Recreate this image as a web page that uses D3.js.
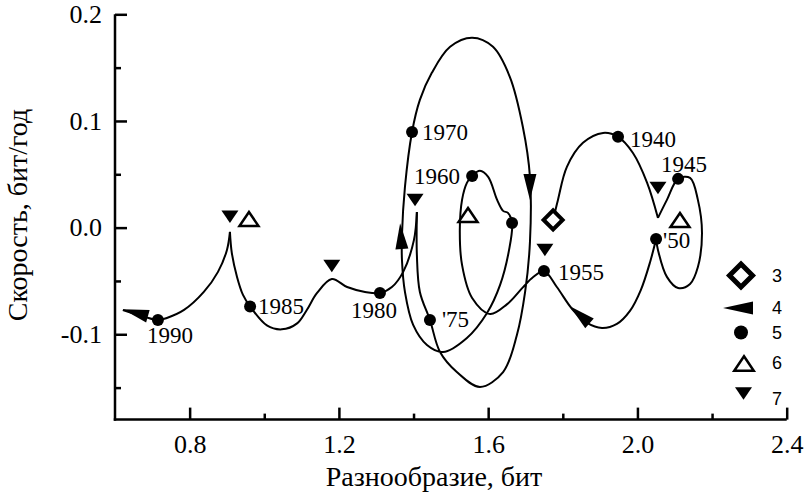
<!DOCTYPE html>
<html><head><meta charset="utf-8">
<script src="https://cdn.jsdelivr.net/npm/d3@7"></script>
<style>
body{margin:0;background:#fff}
</style>
</head><body><svg id="c" width="805" height="496"></svg>
<script>
// ---------- data ----------
const xTicks = [0.8, 1.2, 1.6, 2.0, 2.4];
const xMinorTicks = [1.0, 1.4, 1.8, 2.2];
const yTicks = [0.2, 0.1, 0.0, -0.1];
const yMinorTicks = [0.15, 0.05, -0.05, -0.15];
const xTitle = "Разнообразие, бит";
const yTitle = "Скорость, бит/год";

// trajectory, split into smooth pieces at cusps
const trajSeg1 = [[1.774,0.0072],[1.787,0.026],[1.811,0.057],[1.854,0.0795],[1.908,0.0888],[1.948,0.0851],[1.988,0.070],[2.026,0.042],[2.055,0.0091]];
const trajSeg2 = [[2.055,0.0091],[2.079,0.026],[2.109,0.0457],[2.141,0.0466],[2.162,0.026],[2.173,-0.005],[2.162,-0.0369],[2.141,-0.0528],[2.109,-0.0566],[2.079,-0.0462],[2.055,-0.0209],[2.050,-0.0106]];
const trajSeg3 = [[2.050,-0.0106],[2.034,-0.0322],[2.009,-0.0586],[1.980,-0.0781],[1.945,-0.0903],[1.905,-0.0941],[1.865,-0.0894],[1.825,-0.0763],[1.784,-0.0557],[1.7495,-0.0407],[1.720,-0.0466],[1.693,-0.0560],[1.650,-0.0720],[1.605,-0.0810],[1.557,-0.0660],[1.530,-0.0350],[1.524,-0.0022],[1.530,0.0260],[1.543,0.0419],[1.557,0.0485],[1.578,0.0532],[1.600,0.0476],[1.624,0.0260],[1.640,0.0157],[1.653,0.0138],[1.664,0.0044],[1.656,-0.0209],[1.632,-0.0537],[1.597,-0.0800],[1.543,-0.1034],[1.479,-0.1166],[1.436,-0.1100],[1.399,-0.0912],[1.377,-0.0603],[1.369,-0.0303],[1.369,-0.0068],[1.377,0.0382],[1.396,0.0897],[1.417,0.1197],[1.449,0.1451],[1.498,0.1695],[1.557,0.1780],[1.613,0.1695],[1.658,0.1414],[1.693,0.0944],[1.712,0.0476],[1.712,-0.0134],[1.699,-0.0603],[1.677,-0.1007],[1.640,-0.1354],[1.578,-0.1494],[1.516,-0.1354],[1.471,-0.1166],[1.444,-0.0866],[1.417,-0.0603],[1.409,-0.0258],[1.409,0.0147]];
const trajSeg4 = [[1.409,0.0147],[1.401,-0.0117],[1.372,-0.0417],[1.342,-0.0557],[1.310,-0.0613],[1.270,-0.0603],[1.222,-0.0557],[1.181,-0.0482],[1.141,-0.0615],[1.114,-0.0772],[1.088,-0.0898],[1.047,-0.0954],[1.007,-0.0917],[0.962,-0.0739],[0.943,-0.0631],[0.927,-0.0462],[0.913,-0.0237],[0.908,-0.0040]];
const trajSeg5 = [[0.908,-0.0040],[0.900,-0.0209],[0.876,-0.0415],[0.838,-0.0603],[0.785,-0.0772],[0.739,-0.0847],[0.715,-0.0866],[0.680,-0.0837],[0.621,-0.0772]];

// year points (symbol 5)
const yearLabels = ["1940","1945","'50","1955","1960","","1970","'75","1980","1985","1990"];
const yearX = [1.948, 2.109, 2.050, 1.7495, 1.557, 1.664, 1.396, 1.444, 1.310, 0.962, 0.715];
const yearY = [0.0851, 0.0457, -0.0106, -0.0407, 0.0485, 0.0044, 0.0897, -0.0866, -0.0613, -0.0739, -0.0866];

// start point (symbol 3)
const startX = [1.774];
const startY = [0.0072];
// direction arrows (symbol 4): tip and a point behind it
const arrowTipX  = [0.621, 1.819, 1.364, 1.712];
const arrowTipY  = [-0.0765, -0.0738, 0.0042, 0.026];
const arrowTailX = [0.688, 1.867, 1.369, 1.712];
const arrowTailY = [-0.083, -0.0884, -0.0209, 0.0513];
// open up triangles (symbol 6)
const openTriX = [0.959, 1.546, 2.114];
const openTriY = [0.0081, 0.0119, 0.0072];
// filled down triangles (symbol 7)
const downTriX = [0.908, 1.181, 1.404, 1.752, 2.055];
const downTriY = [0.0101, -0.036, 0.026, -0.0209, 0.0372];

const legendLabels = ["3","4","5","6","7"];

// ---------- layout ----------
const SERIF = "'Liberation Serif', Tinos, 'Times New Roman', serif";
const SANS = "'Liberation Sans', Arimo, Arial, sans-serif";
const svg = d3.select("#c");
const x = d3.scaleLinear().domain([0.6, 2.4]).range([115, 786.7]);
const y = d3.scaleLinear().domain([-0.18, 0.2]).range([419.6, 14.3]);

// label placement (dx, dy in px relative to point, anchor)
const labelDx = [12, 6, 7, 14, -12, 0, 10, 12, -6, 8, 12];
const labelDy = [10, -7, 9, 9, 8, 0, 8, 7, 25, 8, 23];
const labelAnchor = ["start","middle","start","start","end","start","start","start","middle","start","middle"];

// axes
const AX_W = 2.5;
const yAxis = svg.append("g").attr("transform","translate(115,0)")
  .call(d3.axisLeft(y).tickValues(yTicks).tickSize(-12).tickSizeOuter(0).tickPadding(13).tickFormat(d=>d.toFixed(1)));
svg.append("g").attr("transform","translate(115,0)")
  .call(d3.axisLeft(y).tickValues(yMinorTicks).tickSize(-6).tickSizeOuter(0).tickFormat(""))
  .call(g=>g.select(".domain").remove());
const xAxis = svg.append("g").attr("transform","translate(0,419.6)")
  .call(d3.axisBottom(x).tickValues(xTicks).tickSize(-12).tickSizeOuter(0).tickPadding(15).tickFormat(d=>d.toFixed(1)));
svg.append("g").attr("transform","translate(0,419.6)")
  .call(d3.axisBottom(x).tickValues(xMinorTicks).tickSize(-6).tickSizeOuter(0).tickFormat(""))
  .call(g=>g.select(".domain").remove());
svg.selectAll(".domain, .tick line").attr("stroke","#000").attr("stroke-width",AX_W);
svg.selectAll(".tick text").attr("fill","#000").style("font-family",SERIF).style("font-size","26px");
yAxis.select(".domain").attr("d", `M0,${y(0.2)}V${y(-0.18)+AX_W/2}`);
xAxis.select(".domain").attr("d", `M${x(0.6)-AX_W/2},0H${x(2.4)}`);

// titles
svg.append("text").attr("x",434).attr("y",486).attr("text-anchor","middle")
  .style("font-family",SERIF).style("font-size","28px").text(xTitle);
svg.append("text").attr("transform","translate(27,215) rotate(-90)").attr("text-anchor","middle")
  .style("font-family",SERIF).style("font-size","28px").text(yTitle);

// trajectory
const line = d3.line().x(d=>x(d[0])).y(d=>y(d[1])).curve(d3.curveCatmullRom.alpha(0.5));
const plot = svg.append("g");
[trajSeg1, trajSeg2, trajSeg3, trajSeg4, trajSeg5].forEach(seg=>{
  plot.append("path").attr("d", line(seg)).attr("fill","none").attr("stroke","#000").attr("stroke-width",2).attr("stroke-linejoin","round");
});

// symbol helpers
function triDown(g, px, py, w, h){
  g.append("path").attr("d",`M${px-w/2},${py-h/2}L${px+w/2},${py-h/2}L${px},${py+h/2}Z`).attr("fill","#000");
}
function triUpOpen(g, px, py, w, h){
  g.append("path").attr("d",`M${px},${py-h/2}L${px+w/2},${py+h/2}L${px-w/2},${py+h/2}Z`)
    .attr("fill","#fff").attr("stroke","#000").attr("stroke-width",2.5).attr("stroke-linejoin","miter");
}
function diamond(g, px, py, s, sw){
  g.append("path").attr("d",`M${px},${py-s}L${px+s},${py}L${px},${py+s}L${px-s},${py}Z`)
    .attr("fill","#fff").attr("stroke","#000").attr("stroke-width",sw);
}
function arrow(g, tx, ty, bx, by, L, hw){
  const dx = tx-bx, dy = ty-by, n = Math.hypot(dx,dy), ux = dx/n, uy = dy/n;
  const cx = tx-L*ux, cy = ty-L*uy;
  g.append("path").attr("d",`M${tx},${ty}L${cx-hw*uy},${cy+hw*ux}L${cx+hw*uy},${cy-hw*ux}Z`).attr("fill","#000");
}

arrowTipX.forEach((v,i)=>arrow(plot, x(v), y(arrowTipY[i]), x(arrowTailX[i]), y(arrowTailY[i]), 26, 6.5));
openTriX.forEach((v,i)=>triUpOpen(plot, x(v), y(openTriY[i]), 19, 14));
downTriX.forEach((v,i)=>triDown(plot, x(v), y(downTriY[i]), 17, 12.5));
startX.forEach((v,i)=>diamond(plot, x(v), y(startY[i]), 9.5, 4));
yearX.forEach((v,i)=>{
  plot.append("circle").attr("cx",x(v)).attr("cy",y(yearY[i])).attr("r",6).attr("fill","#000");
  if (yearLabels[i]) plot.append("text").attr("x",x(v)+labelDx[i]).attr("y",y(yearY[i])+labelDy[i])
    .attr("text-anchor",labelAnchor[i]).style("font-family",SERIF).style("font-size","23px").text(yearLabels[i]);
});

// legend
const lg = svg.append("g");
const legY = [275.5, 308, 332.5, 363.5, 393.5];
const legTextY = [276, 308, 333, 363, 399];
diamond(lg, 741, legY[0], 11.5, 5);
lg.append("path").attr("d",`M723,${legY[1]}L753,${legY[1]-6.5}L753,${legY[1]+6.5}Z`).attr("fill","#000");
lg.append("circle").attr("cx",741).attr("cy",legY[2]).attr("r",7).attr("fill","#000");
triUpOpen(lg, 744, legY[3], 19.5, 14.5);
triDown(lg, 743.5, legY[4], 17, 12.5);
legendLabels.forEach((t,i)=>{
  lg.append("text").attr("x",772).attr("y",legTextY[i]).attr("dy","0.36em")
    .style("font-family",SANS).style("font-size","18px").text(t);
});
</script>
</body></html>
